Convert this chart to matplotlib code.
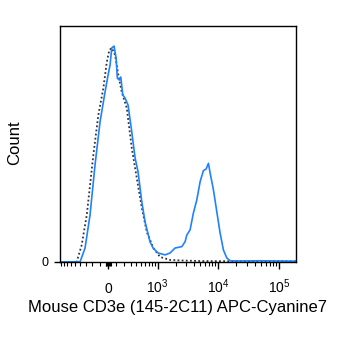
import numpy as np
import matplotlib
matplotlib.use('Agg')
import matplotlib.pyplot as plt
from matplotlib.ticker import FixedLocator

plt.rcParams['font.family'] = ['Liberation Sans', 'DejaVu Sans']
plt.rcParams['mathtext.fontset'] = 'custom'
plt.rcParams['mathtext.rm'] = 'Liberation Sans'
plt.rcParams['mathtext.it'] = 'Liberation Sans:italic'

# stained sample (blue), fluorescence vs. normalised count
stained_x = [-958, -397, -309, -231, -161, -97, -36, 0, 24, 44, 72, 97, 113, 138,
             157, 184, 216, 261, 321, 380, 438, 519, 598, 736, 832, 1014, 1339,
             1619, 1960, 2537, 2873, 3062, 3470, 3935, 4473, 5069, 5740, 6360,
             6940, 7400, 8390, 9520, 10780, 12210, 13880, 15750, 22900, 48800,
             103600, 189600]
stained_y = [0, 0.1, 5.9, 19.9, 41.1, 59.3, 72.0, 79.2, 83.5, 90.7, 91.5, 86.4,
             77.9, 77.1, 78.4, 70.8, 69.5, 66.5, 55.1, 44.1, 38.1, 25.4, 16.9,
             8.5, 5.9, 3.8, 3.0, 3.8, 5.9, 6.5, 8.6, 11.4, 13.6, 20.8, 26.3,
             34.0, 38.7, 39.4, 41.8, 37.7, 30.5, 21.3, 12.3, 5.1, 1.7, 0.5, 0.4,
             0.5, 0.4, 0.3]

# control sample (dotted black)
control_x = [-958, -466, -367, -281, -184, -118, -56, -15, 15, 44, 84, 126, 170,
             241, 321, 412, 519, 643, 841, 1099, 1619, 2662, 5000, 20000, 100000,
             189600]
control_y = [0, 0, 7.2, 19.9, 45.3, 62.3, 73.7, 84.7, 89.8, 90.7, 87.7, 79.2,
             72.0, 65.3, 48.3, 35.6, 22.9, 12.7, 5.9, 2.1, 0.85, 0.6, 0.4, 0.3,
             0.3, 0.3]

major_ticks = [0, 1e3, 1e4, 1e5]
major_labels = ['0', '$10^3$', '$10^4$', '$10^5$']
minor_ticks = ([v for v in range(-900, 1000, 100) if v != 0] + [-30, -20, -10, 10, 20, 30]
               + [k * 1000 for k in range(2, 10)] + [k * 10000 for k in range(2, 10)]
               + [k * 100000 for k in range(2, 10)])

C = 315.0


def fwd(x):
    return np.arcsinh(np.asarray(x, dtype=float) / C)


def inv(y):
    return C * np.sinh(np.asarray(y, dtype=float))


fig = plt.figure(figsize=(3.5, 3.38), dpi=100)
ax = fig.add_axes([0.170, 0.225, 0.676, 0.698])
ax.set_xscale('function', functions=(fwd, inv))

ax.plot(control_x, control_y, color='#333333', lw=1.3, linestyle=(0, (1, 1.3)))
ax.plot(stained_x, stained_y, color='#1f82ff', lw=1.2)

ax.set_xlim(-958, 189600)
ax.set_ylim(0, 100)

ax.xaxis.set_major_locator(FixedLocator(major_ticks))
ax.xaxis.set_minor_locator(FixedLocator(minor_ticks))
ax.set_xticklabels(major_labels)
ax.set_yticks([0])
ax.set_yticklabels(['0'])

ax.tick_params(axis='x', which='major', length=5, width=1, labelsize=10, pad=17)
ax.tick_params(axis='x', which='minor', length=3, width=0.8)
ax.tick_params(axis='y', which='major', length=4, width=1, labelsize=9, pad=4)
for s in ax.spines.values():
    s.set_linewidth(1.0)

ax.set_xlabel('Mouse CD3e (145-2C11) APC-Cyanine7', fontsize=12)
ax.xaxis.label.set_va('center')
ax.xaxis.set_label_coords(0.5, -0.195)
ax.set_ylabel('Count', fontsize=12)
ax.yaxis.label.set_va('center')
ax.yaxis.set_label_coords(-0.188, 0.504)

for lbl in ax.get_xticklabels():
    lbl.set_va('baseline')

fig.savefig('out.png', dpi=100)
